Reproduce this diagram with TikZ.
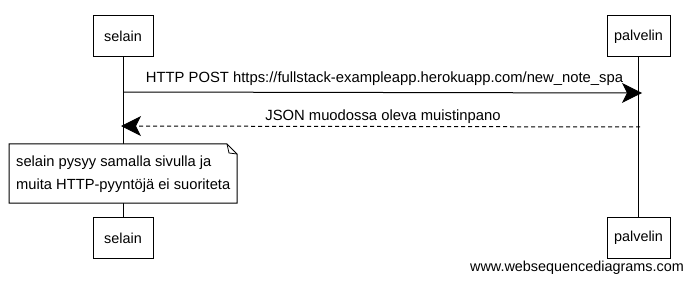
\documentclass[tikz,border=0pt]{standalone}
\usepackage{fontspec}
\setmainfont{Liberation Sans}
\usetikzlibrary{arrows.meta,positioning}
\begin{document}
\begin{tikzpicture}[x=1pt,y=-1pt,
  txt/.style={font=\fontsize{14.4}{23}\selectfont},
  actor/.style={txt,draw,line width=1pt,fill=white,minimum width=60pt,minimum height=41pt,inner sep=0pt},
  life/.style={line width=0.8pt},
  msg/.style={line width=1pt,-{Stealth[length=20pt,width=20pt,inset=5pt]}},
  reply/.style={msg,dash pattern=on 4pt off 3pt},
  lbl/.style={txt,inner sep=0pt}]
\useasboundingbox (0,0) rectangle (692,283);
% participants
\node[actor] (st) at (123,36.5) {selain};
\node[actor,minimum width=63pt] (pt) at (638.5,36.5) {palvelin};
\node[actor] (sb) at (123,238) {selain};
\node[actor,minimum width=63pt] (pb) at (638.5,238) {palvelin};
\draw[life] (st) -- (sb);
\draw[life] (pt) -- (pb);
% messages
\coordinate (a1) at (123,92);
\coordinate (b1) at (642,93);
\coordinate (a2) at (640,127);
\coordinate (b2) at (121,126);
\draw[msg] (a1) -- (b1);
\draw[reply] (a2) -- (b2);
\node[lbl,font=\fontsize{14.8}{18}\selectfont] (m1) at (384.5,79) {HTTP POST https://fullstack-exampleapp.herokuapp.com/new\_note\_spa};
\node[lbl,font=\fontsize{14.8}{18}\selectfont] (m2) at (383,117) {JSON muodossa oleva muistinpano};
% note with folded corner
\draw[line width=1pt,fill=white] (9,144) -- (227,144) -- (237,154) -- (237,203) -- (9,203) -- cycle;
\draw[line width=0.8pt] (227,144) -- (229,153) -- (237,154);
\node[lbl,align=left,anchor=west,font=\fontsize{14.7}{23}\selectfont] (n) at (16,174.5) {selain pysyy samalla sivulla ja\\muita HTTP-pyyntöjä ei suoriteta};
% footer
\node[lbl,anchor=east] (w) at (684,268) {www.websequencediagrams.com};
\end{tikzpicture}
\end{document}
